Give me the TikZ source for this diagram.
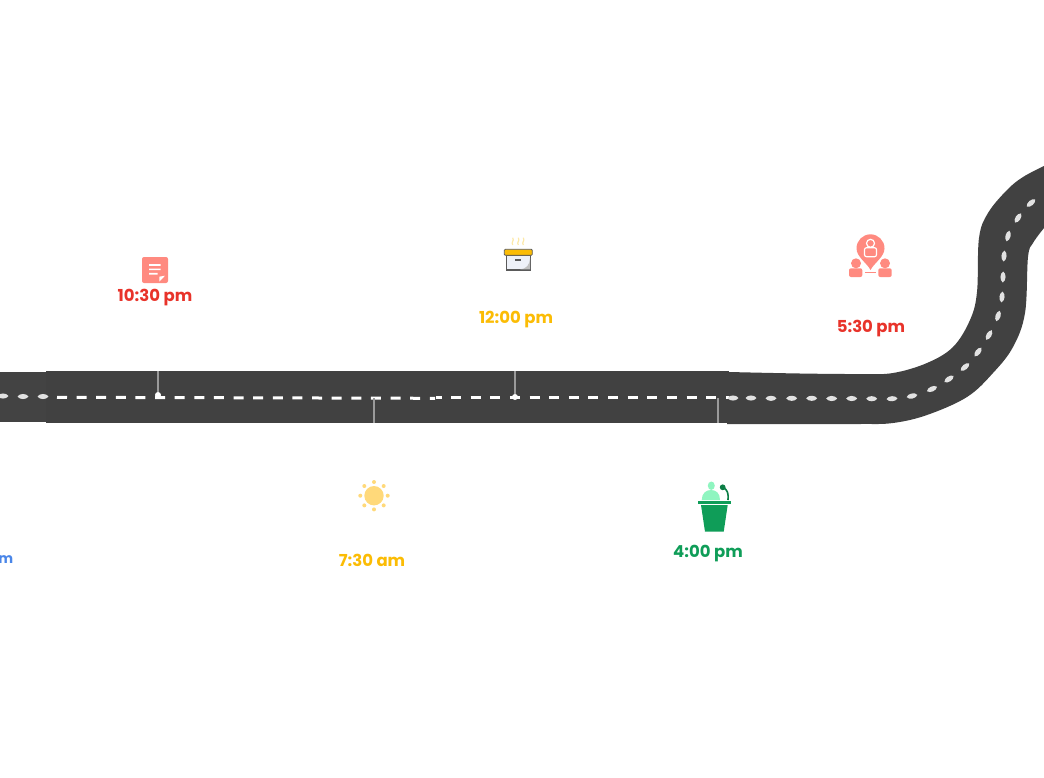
\documentclass[tikz,border=0pt]{standalone}
\usepackage{fontspec}
\setmainfont{Poppins}
\definecolor{roadgrey}{HTML}{414141}
\definecolor{roadleft}{HTML}{434343}
\definecolor{stripe}{HTML}{E2E2E2}
\definecolor{ticky}{HTML}{9A9A9A}
\definecolor{redtime}{HTML}{E8332A}
\definecolor{ambertime}{HTML}{FBBC05}
\definecolor{greentime}{HTML}{0F9D58}
\definecolor{bluetime}{HTML}{4A86E8}
\definecolor{coral}{HTML}{FF8A80}
\definecolor{sunny}{HTML}{FFD97A}
\definecolor{mint}{HTML}{8FF5C0}
\definecolor{steam}{HTML}{FDE9A8}
\definecolor{boxside}{HTML}{EEF1F8}
\definecolor{boxline}{HTML}{5A5A5A}

\begin{document}
\begin{tikzpicture}
[
x=1pt,y=-1pt,
time/.style={font=\bfseries\fontsize{16.5}{18}\selectfont,text=#1,inner sep=0pt},
tick/.style={draw=ticky,line width=1.5pt},
roaddash/.style={white,line width=3pt,dash pattern=on 10pt off 9.62pt},
lens/.pic={
            \fill[stripe] (-5.5,0) .. controls (-3.5,-3.4) and (3.5,-3.4) .. (5.5,0) .. controls (3.5,3.4) and (-3.5,3.4) .. (-5.5,0);
},
pindot/.style={fill=white,circle,inner sep=0pt,minimum size=6pt},
]
\useasboundingbox (0,0) rectangle (1044,777);

%Draw the road
\fill[roadleft] (0,372) rectangle (46,422);
\fill[roadgrey] (46,371) rectangle (729,423);
\fill[roadgrey] plot[smooth,tension=0.6] coordinates {(729,372) (800,373.5) (860,374) (893,373) (927,363) (953,347) (970,320) (977,292) (979,238) (988,213) (1007,190) (1023,177) (1044,166)}
  -- plot[smooth,tension=0.6] coordinates {(1044,228) (1033,243) (1028,257) (1025,313) (1013,347) (993,373) (967,397) (927,415) (893,423) (860,424) (800,424) (727,424)} -- cycle;

%Place the stripes
\coordinate (stripea) at (57,397.3);
\coordinate (stripeb) at (435,398.3);
\coordinate (stripec) at (436,397.3);
\coordinate (striped) at (729,397.3);
\draw[roaddash] (stripea) -- (stripeb);
\draw[roaddash,dash phase=4.5pt] (stripec) -- (striped);
\foreach \px/\py/\ang in {3/396/0,23/396.5/0,43/396.5/0,733/398/0,751/398/0,771/398.3/0,791.7/398.3/0,811.7/398.3/0,831.7/398.5/0,851.7/398.5/0,871.7/398.7/0,892/398.7/4,912/396/12,932/389/24,949/379/34,965/367/40,978/352/52,989/335/60,998/316/72,1002/297/84,1003/277/88,1004/256/85,1008/236/75,1018/218/57,1031/203/40}
  \pic[rotate=\ang] at (\px,\py) {lens};

%Place the nodes
\node[time=redtime] (late) at (155,298) {10:30 pm};
\node[time=ambertime] (lunch) at (516,320) {12:00 pm};
\node[time=redtime] (meet) at (871,329) {5:30 pm};
\node[time=ambertime] (sunrise) at (372,560.5) {7:30 am};
\node[time=greentime] (talk) at (708,554) {4:00 pm};
\node[time=bluetime,anchor=east,font=\bfseries\fontsize{14}{16}\selectfont] (first) at (13.5,559.5) {m};

%Draw the ticks
\node[pindot] (pina) at (158,395) {};
\node[pindot] (pinb) at (515,397) {};
\coordinate (topa) at (158,371);
\coordinate (topb) at (515,371);
\coordinate (sunb) at (374,423);
\coordinate (suna) at (374,398);
\coordinate (talkb) at (718,423);
\coordinate (talka) at (718,398);
\draw[tick] (topa) -- (pina);
\draw[tick] (topb) -- (pinb);
\draw[tick] (suna) -- (sunb);
\draw[tick] (talka) -- (talkb);

%Note icon
\fill[coral,rounded corners=2pt] (142,257) rectangle (168,283);
\fill[white] (149,264.2) rectangle (160.5,265.8) (149,268.5) rectangle (160.5,270.1) (149,272.9) rectangle (157.5,274.5);
\fill[white] (159.3,276.7) -- (165,275.7) -- (159.3,281.7) -- cycle;

%Lunch box icon
\foreach \x in {512.7,518.3,523.3}
  \draw[steam,line width=1.2pt] (\x,245) .. controls (\x-2,242) and (\x+2,241) .. (\x,237.7);
\draw[boxline,fill=boxside,line width=1.2pt] (506.3,255) rectangle (530.7,270);
\fill[black!25] (530,258) .. controls (530,265) and (526,269) .. (520,269.4) -- (530,269.4) -- cycle;
\fill[ambertime,draw=boxline,line width=0.8pt,rounded corners=1pt] (504.3,249.3) rectangle (532.3,255.3);
\fill[boxline] (515.3,259.4) rectangle (521,260.8);

%Meeting point icon
\fill[coral] (870.5,270) .. controls (867,263) and (856.5,257) .. (856.5,248.3) arc (180:360:14) .. controls (884.5,257) and (874,263) .. (870.5,270) -- cycle;
\draw[white,line width=1.2pt] (870.5,243.3) circle (4);
\draw[white,line width=1.2pt,rounded corners=2pt] (864.5,247.7) rectangle (876.5,256.7);
\fill[coral] (856,263.3) circle (5) (885,263.3) circle (5);
\fill[coral,rounded corners=2pt] (849,268.3) rectangle (862.3,277) (878.3,268.3) rectangle (891.7,277);
\fill[coral] (864.8,271.8) rectangle (875.8,273);

%Sun icon
\fill[sunny] (374,495.7) circle (9.7);
\foreach \a in {0,45,...,315}
  \fill[sunny] (374,495.7) ++(\a:13.7) circle (2);

%Lectern icon
\fill[mint] (711.3,485.7) ellipse (3.5 and 4.2);
\fill[mint] (701.7,500) .. controls (702,493) and (706,490) .. (711,490) .. controls (716,490) and (720,493) .. (720,500) -- cycle;
\draw[greentime!80!black,line width=1.6pt] (728,500) .. controls (728.5,494) and (728,490) .. (723,487.3);
\fill[greentime!80!black] (722.7,487.3) circle (2.9);
\fill[greentime] (698,500.7) rectangle (730.7,504);
\fill[greentime] (701,505) -- (727.7,505) -- (723.7,531.7) -- (705,531.7) -- cycle;
\end{tikzpicture}
\end{document}
